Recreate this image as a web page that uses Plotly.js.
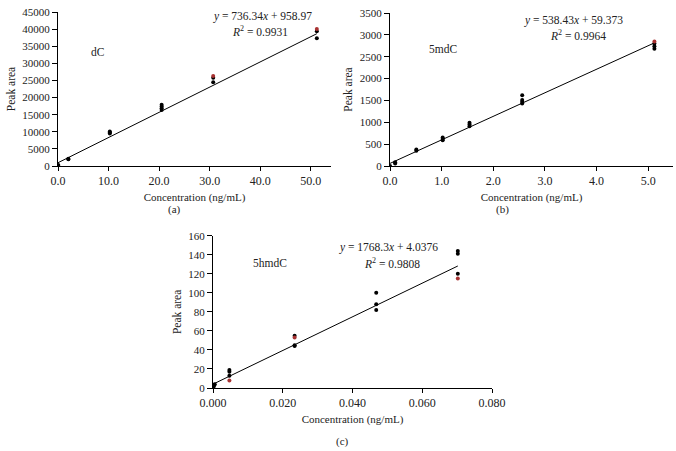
<!DOCTYPE html>
<html><head><meta charset="utf-8">
<script src="https://cdn.plot.ly/plotly-3.0.1.min.js"></script>
<style>html,body{margin:0;padding:0;background:#fff}#chart{width:676px;height:451px}</style>
</head><body><div id="chart"></div>
<script>
// Panel (a) dC
const aConc = [0.0, 0.05, 2.05, 2.05, 10.25, 10.25, 10.25, 20.5, 20.5, 20.5, 20.5, 30.7, 30.7, 51.2, 51.2];
const aArea = [100, 300, 2000, 2150, 9500, 9800, 10100, 16400, 16900, 17400, 17900, 24500, 25800, 37300, 39400];
const aRedConc = [30.7, 51.2];
const aRedArea = [26300, 40000];
const aFit = {slope: 736.34, intercept: 958.97, xmin: 0, xmax: 51.2};

// Panel (b) 5mdC
const bConc = [0.0, 0.1, 0.1, 0.51, 0.51, 1.02, 1.02, 1.02, 1.54, 1.54, 1.54, 2.56, 2.56, 2.56, 2.56, 5.12, 5.12, 5.12];
const bArea = [0, 60, 85, 350, 375, 590, 620, 650, 910, 950, 990, 1430, 1470, 1510, 1620, 2680, 2740, 2800];
const bRedConc = [5.12];
const bRedArea = [2850];
const bFit = {slope: 538.43, intercept: 59.373, xmin: 0, xmax: 5.12};

// Panel (c) 5hmdC
const cConc = [0.0001, 0.0002, 0.0003, 0.0005, 0.0047, 0.0047, 0.0047, 0.0234, 0.0234, 0.0234, 0.0468, 0.0468, 0.0468, 0.0702, 0.0702, 0.0702];
const cArea = [1, 2, 3, 4, 13, 17, 19, 44, 45, 55, 82, 88, 100, 120, 141, 144];
const cRedConc = [0.0047, 0.0234, 0.0702];
const cRedArea = [8, 53, 115];
const cFit = {slope: 1768.3, intercept: 4.0376, xmin: 0, xmax: 0.0702};

const labels = {
  a: {name: 'dC', eq: '<i>y</i> = 736.34<i>x</i> + 958.97', r2: '<i>R</i><sup>2</sup> = 0.9931', tag: '(a)'},
  b: {name: '5mdC', eq: '<i>y</i> = 538.43<i>x</i> + 59.373', r2: '<i>R</i><sup>2</sup> = 0.9964', tag: '(b)'},
  c: {name: '5hmdC', eq: '<i>y</i> = 1768.3<i>x</i> + 4.0376', r2: '<i>R</i><sup>2</sup> = 0.9808', tag: '(c)'}
};

const FONT = 'Liberation Serif, Times New Roman, serif';
const TXT = '#222';
function fitTrace(f, xa, ya){
  return {x:[f.xmin, f.xmax], y:[f.slope*f.xmin+f.intercept, f.slope*f.xmax+f.intercept],
    mode:'lines', line:{color:'#000', width:1}, xaxis:xa, yaxis:ya, hoverinfo:'skip'};
}
function pts(x, y, color, xa, ya){
  return {x:x, y:y, mode:'markers', marker:{color:color, size:4}, xaxis:xa, yaxis:ya};
}
const traces = [
  fitTrace(aFit,'x','y'), pts(aConc,aArea,'#000','x','y'), pts(aRedConc,aRedArea,'#a83232','x','y'),
  fitTrace(bFit,'x2','y2'), pts(bConc,bArea,'#000','x2','y2'), pts(bRedConc,bRedArea,'#a83232','x2','y2'),
  fitTrace(cFit,'x3','y3'), pts(cConc,cArea,'#000','x3','y3'), pts(cRedConc,cRedArea,'#a83232','x3','y3')
];

function xax(domain, anchor, range, dtick, fmt){
  return {domain:domain, anchor:anchor, range:range, dtick:dtick, tick0:0, tickformat:fmt,
    showgrid:false, zeroline:false, showline:true, linecolor:'#000', linewidth:1,
    ticks:'outside', ticklen:4, tickcolor:'#000', tickfont:{family:FONT, size:12, color:TXT},
    title:{text:'Concentration (ng/mL)', font:{family:FONT, size:11, color:TXT}, standoff:5}};
}
function yax(domain, anchor, range, dtick){
  return {domain:domain, anchor:anchor, range:range, dtick:dtick, tick0:0, tickformat:'d',
    showgrid:false, zeroline:false, showline:true, linecolor:'#000', linewidth:1,
    ticks:'outside', ticklen:5, tickcolor:'#000', tickfont:{family:FONT, size:11, color:TXT},
    title:{text:'Peak area', font:{family:FONT, size:11.5, color:TXT}, standoff:4}};
}

const ann = [];
function addText(xp, yp, text, size){
  ann.push({xref:'paper', yref:'paper', x:xp/676, y:1-yp/451, text:text, showarrow:false,
    xanchor:'center', yanchor:'middle', font:{family:FONT, size:size||11.5, color:TXT}});
}
addText(262, 16, labels.a.eq); addText(260, 31, labels.a.r2); addText(98, 52, labels.a.name, 11.5);
addText(174, 210, labels.a.tag, 11);
addText(573, 21, labels.b.eq); addText(578, 35, labels.b.r2); addText(443, 49, labels.b.name, 11.5);
addText(502, 210, labels.b.tag, 11);
addText(388, 247, labels.c.eq); addText(392, 263, labels.c.r2); addText(270, 263, labels.c.name, 11.5);
addText(342, 441, labels.c.tag, 11);

const layout = {
  width:676, height:451, margin:{l:0,r:0,t:0,b:0}, showlegend:false,
  paper_bgcolor:'#fff', plot_bgcolor:'#fff',
  xaxis: xax([58/676, 331/676], 'y', [0, 54], 10, '.1f'),
  yaxis: yax([1-166/451, 1-12/451], 'x', [0, 45000], 5000),
  xaxis2: xax([390/676, 673/676], 'y2', [0, 5.48], 1, '.1f'),
  yaxis2: yax([1-166/451, 1-13/451], 'x2', [0, 3500], 500),
  xaxis3: xax([213/676, 492/676], 'y3', [0, 0.08], 0.02, '.3f'),
  yaxis3: yax([1-388/451, 1-235.7/451], 'x3', [0, 160], 20),
  annotations: ann
};
Plotly.newPlot('chart', traces, layout, {displayModeBar:false, staticPlot:true});
</script></body></html>
